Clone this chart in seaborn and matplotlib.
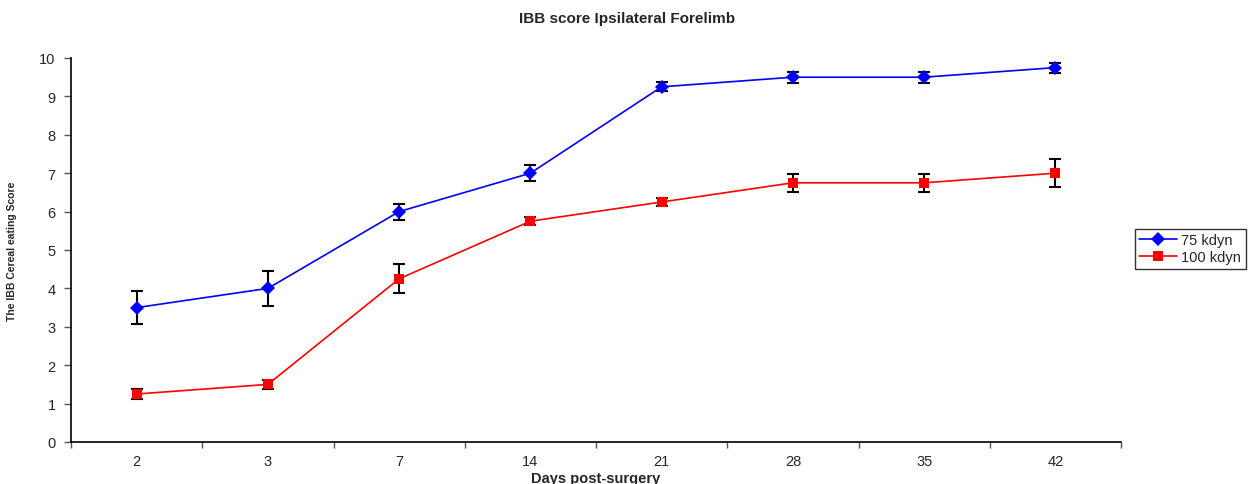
import matplotlib
matplotlib.use("Agg")
import matplotlib.pyplot as plt
import seaborn as sns
import pandas as pd
import numpy as np

days = ["2", "3", "7", "14", "21", "28", "35", "42"]
kdyn75 = [3.5, 4.0, 6.0, 7.0, 9.25, 9.5, 9.5, 9.75]
kdyn75_err = [0.44, 0.45, 0.21, 0.21, 0.12, 0.14, 0.14, 0.13]
kdyn100 = [1.25, 1.5, 4.25, 5.75, 6.25, 6.75, 6.75, 7.0]
kdyn100_err = [0.12, 0.12, 0.38, 0.11, 0.11, 0.24, 0.24, 0.36]

sns.set_theme(style="white")
plt.rcParams['font.family'] = ['Liberation Sans', 'DejaVu Sans']

fig = plt.figure(figsize=(12.54, 4.85), dpi=100)
ax = fig.add_axes([71/1254, 42/485, 1050/1254, 384/485])

pos = np.arange(len(days))
df = pd.DataFrame({
    "pos": np.concatenate([pos, pos]),
    "score": kdyn75 + kdyn100,
    "group": ["75 kdyn"] * len(days) + ["100 kdyn"] * len(days),
})

ax.errorbar(pos, kdyn75, yerr=kdyn75_err, fmt="none", ecolor="black",
            elinewidth=1.5, capsize=4, capthick=1.5, zorder=2)
ax.errorbar(pos, kdyn100, yerr=kdyn100_err, fmt="none", ecolor="black",
            elinewidth=1.5, capsize=4, capthick=1.5, zorder=2)

sns.lineplot(data=df, x="pos", y="score", hue="group", style="group",
             palette={"75 kdyn": "#0000FF", "100 kdyn": "#FF0000"},
             markers={"75 kdyn": "D", "100 kdyn": "s"}, dashes=False,
             markersize=7.5, markeredgewidth=0, linewidth=1.2, ax=ax, zorder=3)

ax.set_xlim(-0.5, len(days) - 0.5)
ax.set_ylim(0, 10)
ax.set_yticks(range(0, 11))
ax.set_xticks(pos)
ax.set_xticklabels(days)
ax.set_xticks(np.arange(-0.5, len(days), 1.0), minor=True)
ax.tick_params(axis="x", which="major", length=0, pad=9, labelsize=10.5)
ax.tick_params(axis="x", which="minor", length=4, width=1, color="#555555",
               direction="out", bottom=True)
ax.tick_params(axis="y", which="major", length=5, width=1, color="#555555",
               direction="out", left=True, labelsize=10.5, pad=6)

for s in ["top", "right"]:
    ax.spines[s].set_visible(False)
for s in ["left", "bottom"]:
    ax.spines[s].set_color("black")
    ax.spines[s].set_linewidth(1.2)

ax.set_xlabel("Days post-surgery", fontsize=10.5, fontweight="bold", labelpad=2)
ax.set_ylabel("The IBB Cereal eating Score", fontsize=7.5, fontweight="bold",
              labelpad=16)
fig.suptitle("IBB score Ipsilateral Forelimb", fontsize=11, fontweight="bold",
             y=0.975)

leg = ax.legend(loc="center left", bbox_to_anchor=(1.013, 0.503),
                frameon=True, fancybox=False, fontsize=10.5,
                borderpad=0.3, handlelength=2.6, labelspacing=0.2,
                handletextpad=0.3, borderaxespad=0)
leg.get_frame().set_edgecolor("black")
leg.get_frame().set_linewidth(1.0)
leg.get_frame().set_boxstyle("square", pad=0)

fig.savefig("out.png", dpi=100)
